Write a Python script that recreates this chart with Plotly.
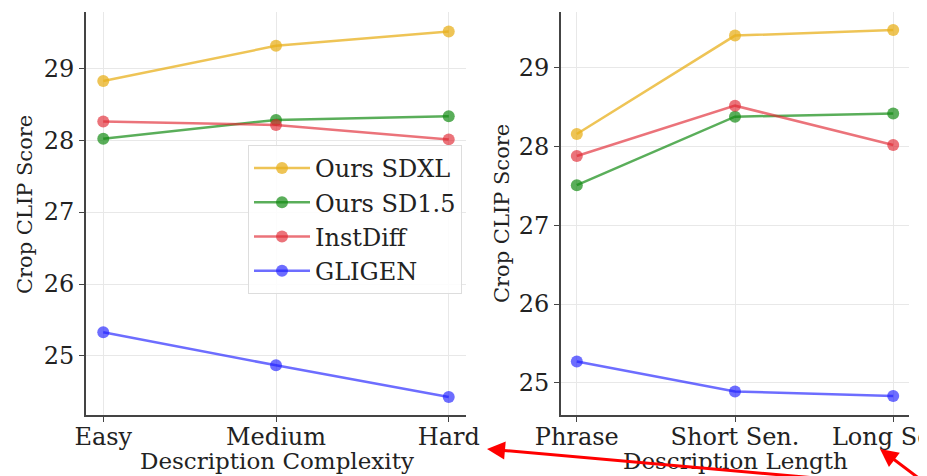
import plotly.graph_objects as go

# ---- data ----
complexity_labels = ["Easy", "Medium", "Hard"]
length_labels = ["Phrase", "Short Sen.", "Long Sen."]
series_names = ["Ours SDXL", "Ours SD1.5", "InstDiff", "GLIGEN"]
y_ticks = [25, 26, 27, 28, 29]

sdxl_complexity = [28.82, 29.31, 29.51]
sd15_complexity = [28.02, 28.28, 28.33]
instdiff_complexity = [28.26, 28.21, 28.01]
gligen_complexity = [25.33, 24.87, 24.43]

sdxl_length = [28.16, 29.41, 29.48]
sd15_length = [27.51, 28.38, 28.42]
instdiff_length = [27.88, 28.52, 28.02]
gligen_length = [25.27, 24.89, 24.83]

colors = ["rgba(232,176,30,0.75)", "rgba(20,140,20,0.7)", "rgba(225,40,50,0.65)", "rgba(30,30,255,0.65)"]

FONT = "DejaVu Serif"
fig = go.Figure()

left = [sdxl_complexity, sd15_complexity, instdiff_complexity, gligen_complexity]
right = [sdxl_length, sd15_length, instdiff_length, gligen_length]
xs = list(range(3))

for name, vals, c in zip(series_names, left, colors):
    fig.add_trace(go.Scatter(x=xs, y=vals, name=name, mode="lines+markers",
                             line=dict(color=c, width=2.5), marker=dict(color=c, size=12),
                             xaxis="x", yaxis="y", showlegend=True))
for name, vals, c in zip(series_names, right, colors):
    fig.add_trace(go.Scatter(x=xs, y=vals, name=name, mode="lines+markers",
                             line=dict(color=c, width=2.5), marker=dict(color=c, size=12),
                             xaxis="x2", yaxis="y2", showlegend=False))

W, H = 927, 476
OFF = 8  # page body margin offset of the rendered figure


def PX(x):
    return (x - OFF) / W


def PY(y):
    return (H - (y - OFF)) / H


axis_common = dict(showline=True, linecolor="#444", linewidth=1.8, ticks="outside",
                   ticklen=5, tickwidth=1.2, tickcolor="#444", showgrid=True,
                   gridcolor="#e8e8e8", gridwidth=1, zeroline=False, automargin=False,
                   ticklabeloverflow="allow",
                   tickfont=dict(family=FONT, size=24, color="#222"))

fig.update_layout(
    width=W, height=H, paper_bgcolor="white", plot_bgcolor="white",
    margin=dict(l=0, r=0, t=0, b=0, autoexpand=False),
    font=dict(family=FONT, color="#222"),
    xaxis=dict(domain=[PX(86), PX(466)], range=[-0.1, 2.1], tickvals=xs, ticktext=complexity_labels,
               anchor="y", ticklabelstandoff=-6, **axis_common),
    yaxis=dict(domain=[PY(415), PY(12)], range=[24.18, 29.78], tickvals=y_ticks,
               anchor="x", **axis_common),
    xaxis2=dict(domain=[PX(561), PX(909)], range=[-0.1, 2.1], tickvals=xs, ticktext=length_labels,
                anchor="y2", ticklabelstandoff=-6, **axis_common),
    yaxis2=dict(domain=[PY(415), PY(12)], range=[24.59, 29.71], tickvals=y_ticks,
                anchor="x2", **axis_common),
    legend=dict(x=PX(248), y=PY(145), xanchor="left", yanchor="top",
                bgcolor="rgba(255,255,255,0.85)", bordercolor="#dddddd", borderwidth=1,
                font=dict(family=FONT, size=24, color="#222"), itemwidth=56),
)

# axis titles
title_font = dict(family=FONT, size=23, color="#222")
fig.add_annotation(text="Description Complexity", x=PX(277), y=PY(461), xref="paper", yref="paper",
                   showarrow=False, font=title_font, xanchor="center", yanchor="middle")
fig.add_annotation(text="Description Length", x=PX(735), y=PY(461), xref="paper", yref="paper",
                   showarrow=False, font=title_font, xanchor="center", yanchor="middle")
ytitle_font = dict(family=FONT, size=21, color="#222")
fig.add_annotation(text="Crop CLIP Score", x=PX(25), y=PY(205), xref="paper", yref="paper",
                   showarrow=False, font=ytitle_font, textangle=-90, xanchor="center", yanchor="middle")
fig.add_annotation(text="Crop CLIP Score", x=PX(502), y=PY(213), xref="paper", yref="paper",
                   showarrow=False, font=ytitle_font, textangle=-90, xanchor="center", yanchor="middle")

# red arrows
fig.add_annotation(x=PX(487), y=PY(449), xref="paper", yref="paper", text="",
                   showarrow=True, arrowhead=2, arrowsize=1.2, arrowwidth=3, arrowcolor="red",
                   ax=350, ay=31, axref="pixel", ayref="pixel")
fig.add_annotation(x=PX(880), y=PY(449), xref="paper", yref="paper", text="",
                   showarrow=True, arrowhead=2, arrowsize=1.2, arrowwidth=3, arrowcolor="red",
                   ax=45, ay=34, axref="pixel", ayref="pixel")

fig.write_html("out.html")
